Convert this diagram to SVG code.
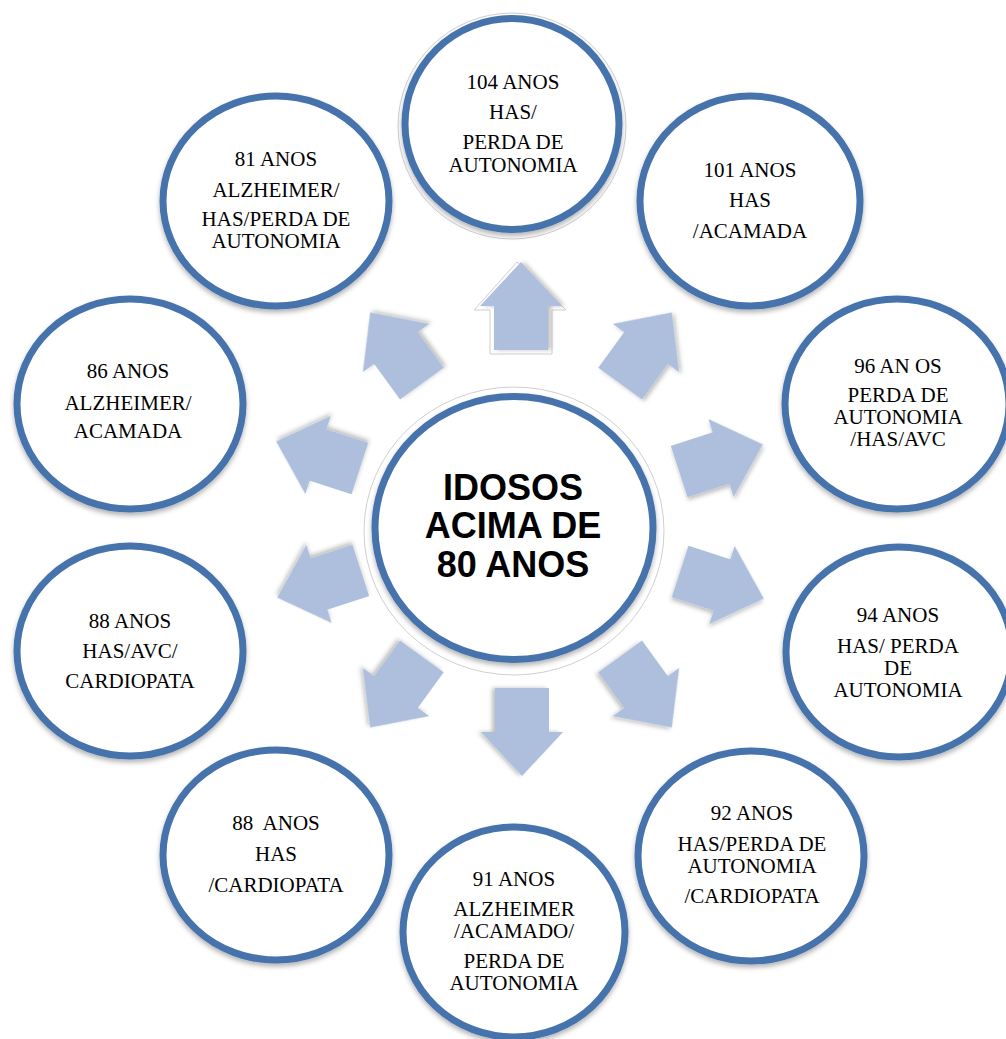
<svg xmlns="http://www.w3.org/2000/svg" width="1006" height="1039" viewBox="0 0 1006 1039">
<defs>
<style>
.c{fill:#fff;stroke:#4773ad;stroke-width:7;filter:url(#sh)}
.g{fill:none;stroke:#d0d0d0;stroke-width:1}
.a{fill:#adbfdc;filter:url(#sha)}
.t{font-family:"Liberation Serif","Times New Roman",serif;font-size:21px;fill:#000;text-anchor:middle;white-space:pre}
.m{font-family:"Liberation Sans",Arial,sans-serif;font-size:36px;font-weight:bold;fill:#000;text-anchor:middle}
</style>
<filter id="sh" x="-20%" y="-20%" width="140%" height="140%">
<feDropShadow dx="0" dy="3" stdDeviation="2.5" flood-color="#000" flood-opacity="0.3"/>
</filter>
<filter id="sha" x="-20%" y="-20%" width="140%" height="140%">
<feDropShadow dx="0" dy="3" stdDeviation="2" flood-color="#000" flood-opacity="0.25"/>
</filter>
<path id="arr" d="M-44,-27 L0,-27 L0,-41 L44,0 L0,41 L0,27 L-44,27 Z"/>
</defs>
<rect width="1006" height="1039" fill="#fff"/>
<g id="connectors">
<path d="M-48,-31 L-4,-31 L-4,-47 L44,-4 L-4,45 L-4,31 L-48,31 Z" transform="translate(521,306) rotate(-90)" fill="#fff" stroke="#cfcfcf" stroke-width="1"/>
<use href="#arr" class="a" transform="translate(521,306) rotate(-90)"/>
<use href="#arr" class="a" transform="translate(646,348) rotate(-54)"/>
<use href="#arr" class="a" transform="translate(721,458) rotate(-18)"/>
<use href="#arr" class="a" transform="translate(722,585) rotate(18)"/>
<use href="#arr" class="a" transform="translate(646,692) rotate(54)"/>
<use href="#arr" class="a" transform="translate(522,732) rotate(90)"/>
<use href="#arr" class="a" transform="translate(396,692) rotate(126)"/>
<use href="#arr" class="a" transform="translate(319,584) rotate(162)"/>
<use href="#arr" class="a" transform="translate(318,455) rotate(198)"/>
<use href="#arr" class="a" transform="translate(396,348) rotate(234)"/>
</g>
<g id="center">
<ellipse class="g" cx="514" cy="531" rx="150" ry="144"/>
<ellipse class="c" cx="514" cy="528" rx="139" ry="131.5"/>
<text class="m" x="513" y="500">IDOSOS</text>
<text class="m" x="513" y="538">ACIMA DE</text>
<text class="m" x="513" y="577">80 ANOS</text>
</g>
<g id="n104">
<ellipse class="g" cx="512" cy="126" rx="114" ry="113"/>
<ellipse class="c" cx="512" cy="124" rx="107" ry="105.5"/>
<text class="t" x="513" y="89">104 ANOS</text>
<text class="t" x="513" y="119">HAS/</text>
<text class="t" x="513" y="149">PERDA DE</text>
<text class="t" x="513" y="172">AUTONOMIA</text>
</g>
<g id="n101">
<ellipse class="c" cx="750" cy="201" rx="110" ry="105"/>
<text class="t" x="750" y="177">101 ANOS</text>
<text class="t" x="750" y="207">HAS</text>
<text class="t" x="750" y="238">/ACAMADA</text>
</g>
<g id="n96">
<ellipse class="c" cx="897" cy="404" rx="112" ry="105"/>
<text class="t" x="898" y="373">96 AN OS</text>
<text class="t" x="898" y="402">PERDA DE</text>
<text class="t" x="898" y="424">AUTONOMIA</text>
<text class="t" x="898" y="446">/HAS/AVC</text>
</g>
<g id="n94">
<ellipse class="c" cx="899" cy="652" rx="113" ry="105"/>
<text class="t" x="898" y="622">94 ANOS</text>
<text class="t" x="898" y="653">HAS/ PERDA</text>
<text class="t" x="898" y="675">DE</text>
<text class="t" x="898" y="697">AUTONOMIA</text>
</g>
<g id="n92">
<ellipse class="c" cx="751" cy="856" rx="113" ry="105"/>
<text class="t" x="752" y="820">92 ANOS</text>
<text class="t" x="752" y="851">HAS/PERDA DE</text>
<text class="t" x="752" y="873">AUTONOMIA</text>
<text class="t" x="752" y="903">/CARDIOPATA</text>
</g>
<g id="n91">
<ellipse class="c" cx="514" cy="932" rx="111" ry="105"/>
<text class="t" x="514" y="886">91 ANOS</text>
<text class="t" x="514" y="916">ALZHEIMER</text>
<text class="t" x="514" y="938">/ACAMADO/</text>
<text class="t" x="514" y="968">PERDA DE</text>
<text class="t" x="514" y="990">AUTONOMIA</text>
</g>
<g id="n88b">
<ellipse class="c" cx="276" cy="855" rx="113" ry="105"/>
<text class="t" x="276" y="830">88  ANOS</text>
<text class="t" x="276" y="861">HAS</text>
<text class="t" x="276" y="892">/CARDIOPATA</text>
</g>
<g id="n88a">
<ellipse class="c" cx="130" cy="651" rx="113" ry="105"/>
<text class="t" x="130" y="628">88 ANOS</text>
<text class="t" x="130" y="658">HAS/AVC/</text>
<text class="t" x="130" y="688">CARDIOPATA</text>
</g>
<g id="n86">
<ellipse class="c" cx="130" cy="404" rx="113" ry="105"/>
<text class="t" x="128" y="378">86 ANOS</text>
<text class="t" x="128" y="410">ALZHEIMER/</text>
<text class="t" x="128" y="438">ACAMADA</text>
</g>
<g id="n81">
<ellipse class="c" cx="276" cy="201" rx="113" ry="105"/>
<text class="t" x="276" y="166">81 ANOS</text>
<text class="t" x="276" y="197">ALZHEIMER/</text>
<text class="t" x="276" y="226">HAS/PERDA DE</text>
<text class="t" x="276" y="248">AUTONOMIA</text>
</g>
</svg>
